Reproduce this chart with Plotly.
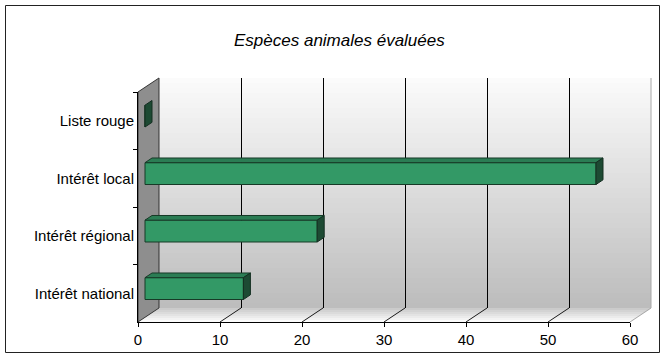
import plotly.graph_objects as go

# ---- data ----
categories = ["Intérêt national", "Intérêt régional", "Intérêt local", "Liste rouge"]
values = [12, 21, 55, 0]
x_ticks = [0, 10, 20, 30, 40, 50, 60]
title_text = "Espèces animales évaluées"

# ---- geometry (pixels) ----
W, H = 662, 358
FX0, FX1 = 138, 630          # front plane x for 0..60
FY_TOP, FY_BOT = 92, 322     # front plane y
DX, DY = 21, 14              # depth offset to back wall
XMAX = 60
K = (FX1 - FX0) / XMAX       # px per unit
NCAT = len(categories)
CATH = (FY_BOT - FY_TOP) / NCAT
BAR_W = 0.38
BDX, BDY = DX / 3, DY / 3    # bar plane offset from front
DEPTH_X = DX / 3 / K         # bar depth in data units
DEPTH_Y = DY / 3 / CATH

def px(x):
    return x / W

def py(y):
    return 1 - y / H

FONT = "Arial, Liberation Sans, sans-serif"
fig = go.Figure()

# subplot A : front plane with axes / labels
fig.add_trace(go.Scatter(x=[0] * NCAT, y=categories, mode="markers",
                         marker=dict(opacity=0), hoverinfo="skip",
                         showlegend=False, xaxis="x", yaxis="y"))

# subplot C : bars at mid depth
cat_idx = list(range(NCAT))
fig.add_trace(go.Bar(x=values, y=cat_idx, orientation="h", width=BAR_W,
                     marker=dict(color="#339966", line=dict(color="#173a27", width=1)),
                     cliponaxis=False, hoverinfo="skip", showlegend=False,
                     xaxis="x3", yaxis="y3"))

shapes = []

# back wall gradient (bands)
NB = 46
top_c, bot_c = (251, 251, 251), (189, 189, 189)
bh = (FY_BOT - DY - (FY_TOP - DY)) / NB
for i in range(NB):
    f = i / (NB - 1)
    c = tuple(int(top_c[j] + (bot_c[j] - top_c[j]) * f) for j in range(3))
    y0 = FY_TOP - DY + i * bh
    shapes.append(dict(type="rect", xref="paper", yref="paper", layer="below",
                       x0=px(FX0 + DX), x1=px(FX1 + DX), y0=py(y0), y1=py(y0 + bh + 0.6),
                       line=dict(width=0), fillcolor="rgb(%d,%d,%d)" % c))

# floor gradient (bands)
NF = 7
back_c, front_c = (200, 200, 200), (255, 255, 255)
for i in range(NF):
    f0, f1 = i / NF, (i + 1) / NF
    fm = (i + 0.5) / NF
    c = tuple(int(back_c[j] + (front_c[j] - back_c[j]) * fm) for j in range(3))
    pts = [(FX0 + DX - DX * f0, FY_BOT - DY + DY * f0),
           (FX1 + DX - DX * f0, FY_BOT - DY + DY * f0),
           (FX1 + DX - DX * f1, FY_BOT - DY + DY * f1 + 0.4),
           (FX0 + DX - DX * f1, FY_BOT - DY + DY * f1 + 0.4)]
    path = "M " + " L ".join("%f,%f" % (px(a), py(b)) for a, b in pts) + " Z"
    shapes.append(dict(type="path", xref="paper", yref="paper", layer="below",
                       path=path, line=dict(width=0), fillcolor="rgb(%d,%d,%d)" % c))

# left wall
pts = [(FX0, FY_TOP), (FX0 + DX, FY_TOP - DY), (FX0 + DX, FY_BOT - DY), (FX0, FY_BOT)]
shapes.append(dict(type="path", xref="paper", yref="paper", layer="below",
                   path="M " + " L ".join("%f,%f" % (px(a), py(b)) for a, b in pts) + " Z",
                   fillcolor="#8e8e8e", line=dict(color="#333333", width=1)))

# back wall right edge
shapes.append(dict(type="line", xref="paper", yref="paper", layer="below",
                   x0=px(FX1 + DX), x1=px(FX1 + DX), y0=py(FY_TOP - DY), y1=py(FY_BOT - DY),
                   line=dict(color="#a8a8a8", width=1)))

# floor diagonals from front ticks to back grid
for v in x_ticks[1:]:
    col = "#1a1a1a" if v < XMAX else "#a8a8a8"
    shapes.append(dict(type="line", xref="paper", yref="paper", layer="below",
                       x0=px(FX0 + K * v), y0=py(FY_BOT),
                       x1=px(FX0 + K * v + DX), y1=py(FY_BOT - DY),
                       line=dict(color=col, width=1)))

# bar top faces and end caps (in bar-plane data coords)
for i, v in enumerate(values):
    t = i + BAR_W / 2
    b = i - BAR_W / 2
    top = "M 0,%f L %f,%f L %f,%f L %f,%f Z" % (t, v, t, v + DEPTH_X, t + DEPTH_Y, DEPTH_X, t + DEPTH_Y)
    cap = "M %f,%f L %f,%f L %f,%f L %f,%f Z" % (v, t, v + DEPTH_X, t + DEPTH_Y,
                                                 v + DEPTH_X, b + DEPTH_Y, v, b)
    if v > 0:
        shapes.append(dict(type="path", xref="x3", yref="y3", layer="above", path=top,
                           fillcolor="#2b7d54", line=dict(color="#173a27", width=1)))
    shapes.append(dict(type="path", xref="x3", yref="y3", layer="above", path=cap,
                       fillcolor="#1d4a33", line=dict(color="#142e21", width=1)))

# outer border
shapes.append(dict(type="rect", xref="paper", yref="paper", layer="above",
                   x0=px(5.5), x1=px(659.5), y0=py(5.5), y1=py(352.5),
                   line=dict(color="#222222", width=1), fillcolor="rgba(0,0,0,0)"))

hidden = dict(showgrid=False, zeroline=False, showticklabels=False, ticks="",
              showline=False, automargin=False)

fig.update_layout(
    template="none",
    width=W, height=H,
    margin=dict(l=0, r=0, t=0, b=0, pad=0, autoexpand=False),
    paper_bgcolor="white", plot_bgcolor="rgba(0,0,0,0)",
    showlegend=False, hovermode=False,
    font=dict(family=FONT, size=15, color="#000000"),
    xaxis=dict(domain=[px(FX0), px(FX1)], range=[0, XMAX], tickvals=x_ticks,
               ticks="outside", ticklen=4, tickcolor="#000", showgrid=False, zeroline=False,
               showline=True, linecolor="#000", linewidth=1, anchor="y", automargin=False,
               tickfont=dict(size=15, family=FONT)),
    yaxis=dict(domain=[py(FY_BOT), py(FY_TOP)], type="category",
               categoryorder="array", categoryarray=categories, range=[-0.5, NCAT - 0.5],
               tickson="boundaries", ticks="outside", ticklen=4, tickcolor="#000",
               showgrid=False, zeroline=False, showline=True, linecolor="#000", linewidth=1,
               anchor="x", automargin=False, tickfont=dict(size=15, family=FONT)),
    xaxis2=dict(domain=[px(FX0 + DX), px(FX1 + DX)], range=[0, XMAX], anchor="y2",
                showgrid=True, gridcolor="#000000", gridwidth=1, tickvals=x_ticks[1:-1],
                showticklabels=False, ticks="", zeroline=False, showline=False,
                automargin=False),
    yaxis2=dict(domain=[py(FY_BOT - DY), py(FY_TOP - DY)], range=[0, 1], anchor="x2", **hidden),
    xaxis3=dict(domain=[px(FX0 + BDX - K), px(FX0 + BDX + K * (XMAX + 1))],
                range=[-1, XMAX + 1], anchor="y3", **hidden),
    yaxis3=dict(domain=[py(FY_BOT - BDY + 0.1 * CATH), py(FY_BOT - BDY - (NCAT + 0.1) * CATH)],
                range=[-0.6, NCAT - 0.4], anchor="x3", **hidden),
    shapes=shapes,
    annotations=[dict(text="<i>%s</i>" % title_text, xref="paper", yref="paper",
                      x=px(339), y=py(40), xanchor="center", yanchor="middle",
                      showarrow=False, font=dict(size=17, family=FONT, color="#000"))],
)

# dummy trace in subplot B so the back wall grid is drawn
fig.add_trace(go.Scatter(x=[None], y=[None], xaxis="x2", yaxis="y2", showlegend=False,
                         hoverinfo="skip"))

fig.write_html("out.html")
